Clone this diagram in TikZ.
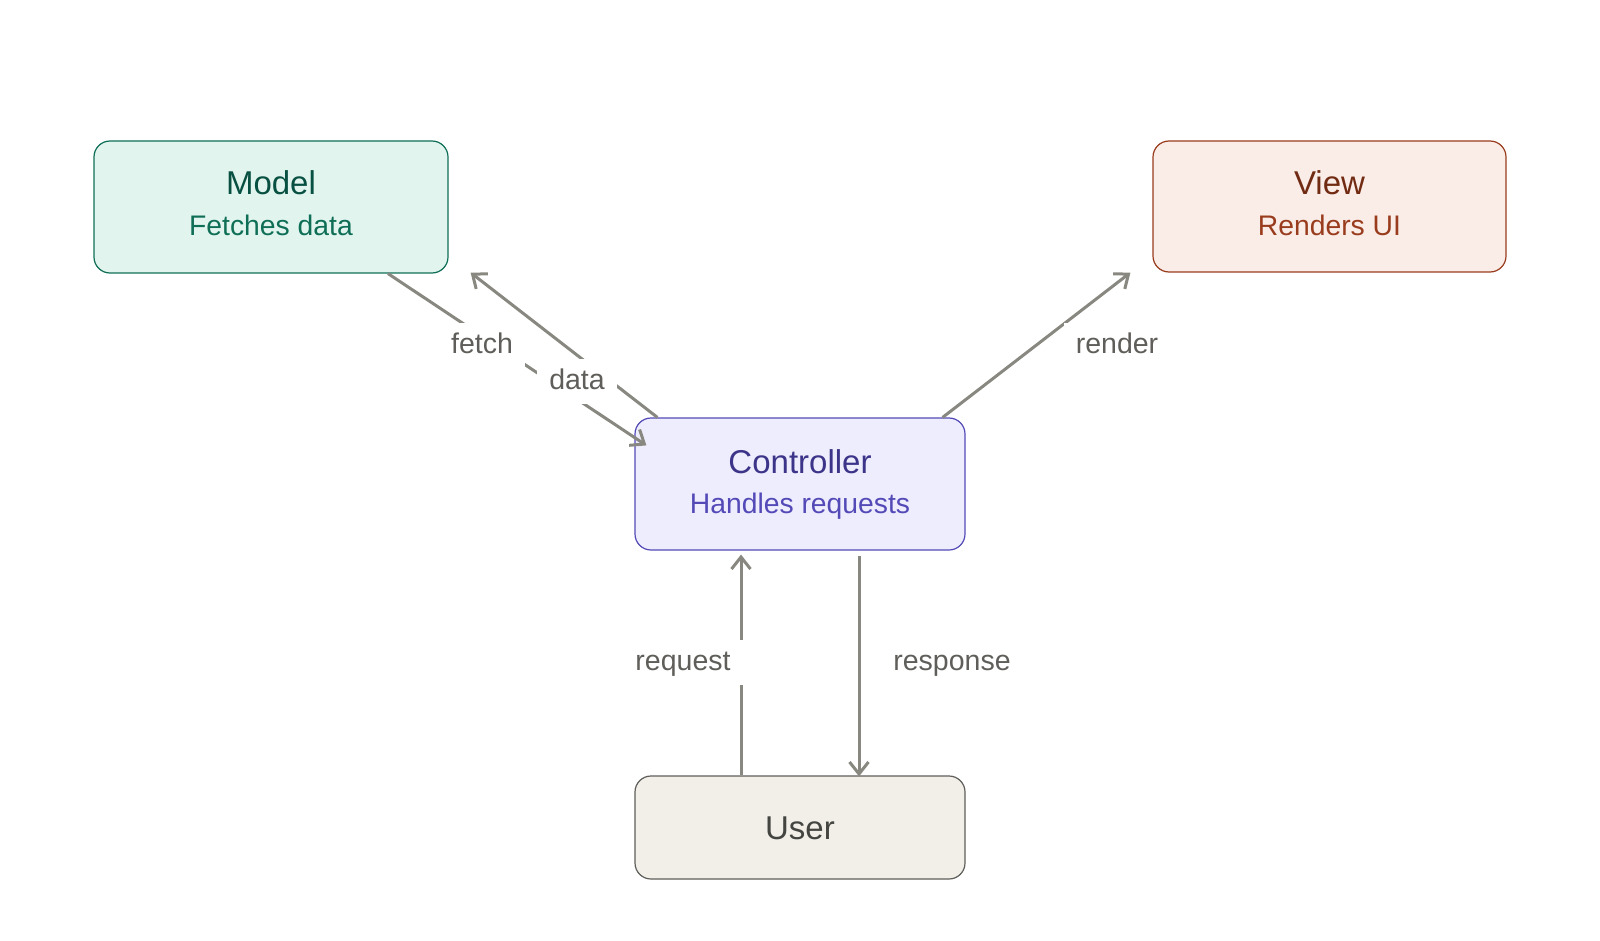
\documentclass[tikz,border=0pt]{standalone}
\usepackage{fontspec}
\setmainfont{Liberation Sans}
\usetikzlibrary{arrows.meta}
\definecolor{modelF}{HTML}{E1F5EE}
\definecolor{modelB}{HTML}{0F6E56}
\definecolor{modelT}{HTML}{085041}
\definecolor{modelS}{HTML}{0F6E56}
\definecolor{ctrlF}{HTML}{EEEDFE}
\definecolor{ctrlB}{HTML}{534AB7}
\definecolor{ctrlT}{HTML}{3C3489}
\definecolor{ctrlS}{HTML}{534AB7}
\definecolor{viewF}{HTML}{FAECE7}
\definecolor{viewB}{HTML}{993C1D}
\definecolor{viewT}{HTML}{712B13}
\definecolor{viewS}{HTML}{993C1D}
\definecolor{userF}{HTML}{F1EFE8}
\definecolor{userB}{HTML}{5F5E5A}
\definecolor{userT}{HTML}{444441}
\definecolor{edgeC}{HTML}{888780}
\definecolor{labelC}{HTML}{5F5E5A}
\tikzset{
  box/.style={rectangle, rounded corners=16pt, line width=1.2pt, inner sep=0pt},
  titletext/.style={anchor=base, inner sep=0pt, font=\fontsize{33}{39}\selectfont},
  subtext/.style={anchor=base, inner sep=0pt, font=\fontsize{28.3}{34}\selectfont},
  conn/.style={draw=edgeC, line width=3pt, -{Straight Barb[length=12pt,width=19pt]}},
  elabel/.style={fill=white, text=labelC, font=\fontsize{28.5}{34}\selectfont,
    inner xsep=12pt, inner ysep=9pt, text height=22pt, text depth=5pt}
}
\begin{document}
\begin{tikzpicture}[x=1pt,y=-1pt]
\useasboundingbox (0,0) rectangle (1600,941);
% boxes
\node[box, draw=modelB, fill=modelF, minimum width=354pt, minimum height=132pt] (model) at (271,207) {};
\node[box, draw=viewB, fill=viewF, minimum width=353pt, minimum height=131pt] (view) at (1329.5,206.5) {};
\node[box, draw=ctrlB, fill=ctrlF, minimum width=330pt, minimum height=132pt] (controller) at (800,484) {};
\node[box, draw=userB, fill=userF, minimum width=330pt, minimum height=103pt] (user) at (800,827.5) {};
% texts
\node[titletext, text=modelT] (modelt) at (271,195) {Model};
\node[subtext, text=modelS] (models) at (271,236) {Fetches data};
\node[titletext, text=viewT] (viewt) at (1329.5,195) {View};
\node[subtext, text=viewS] (views) at (1329.5,236) {Renders UI};
\node[titletext, text=ctrlT] (ctrlt) at (800,473) {Controller};
\node[subtext, text=ctrlS] (ctrls) at (800,513) {Handles requests};
\node[titletext, text=userT] (usert) at (800,839) {User};
% connectors
\draw[conn] ([xshift=117pt]model.south) -- ([xshift=12pt,yshift=-28pt]controller.north west);
\draw[conn] ([xshift=23pt]controller.north west) -- ([xshift=22pt,yshift=1pt]model.south east);
\draw[conn] ([xshift=-23pt]controller.north east) -- ([xshift=-22pt]view.south west);
\draw[conn] ([xshift=-59pt]user.north) -- ([xshift=-59pt,yshift=-4pt]controller.south);
\draw[conn] ([xshift=59pt,yshift=-5pt]controller.south) -- ([xshift=59pt,yshift=-1pt]user.north);
% labels
\node[elabel] (lfetch) at (482,345) {fetch};
\node[elabel] (ldata) at (577,381) {data};
\node[elabel] (lrender) at (1117,345) {render};
\node[elabel] (lrequest) at (683,662) {request};
\node[elabel] (lresponse) at (952,662) {response};
\end{tikzpicture}
\end{document}
